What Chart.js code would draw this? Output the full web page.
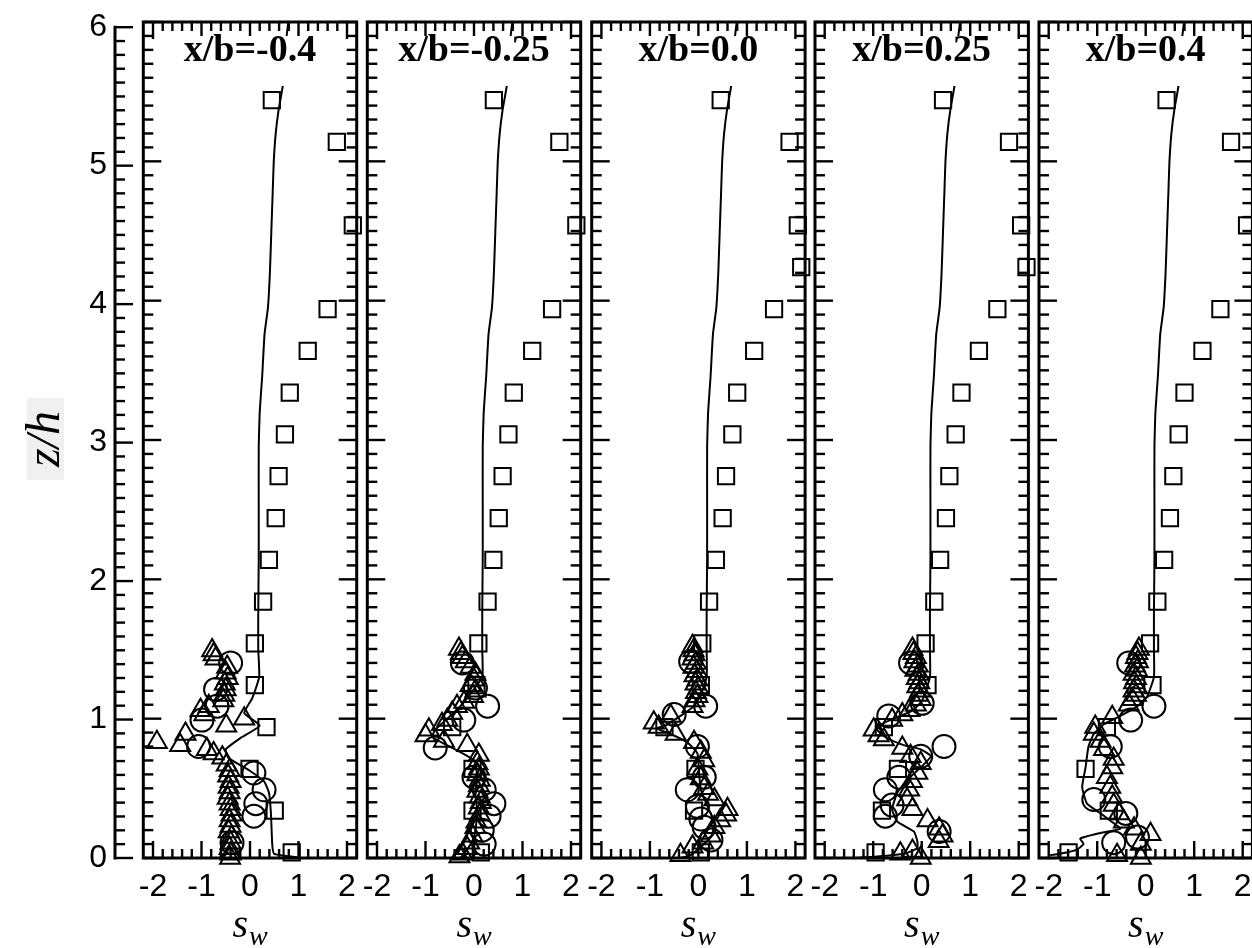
<!DOCTYPE html>
<html><head><meta charset="utf-8">
<script src="https://cdn.jsdelivr.net/npm/chart.js@4.4.1/dist/chart.umd.min.js"></script>
<style>
html,body{margin:0;padding:0;background:#fff;}
#wrap{position:relative;width:1252px;height:948px;overflow:hidden;background:#fff;}
#wrap canvas{position:absolute;left:0;top:0;}
</style></head><body><div id="wrap"></div>
<script>
// ---------------- data ----------------
const panelTitles = ['x/b=-0.4', 'x/b=-0.25', 'x/b=0.0', 'x/b=0.25', 'x/b=0.4'];
const xTickValues = [-2, -1, 0, 1, 2];
const yTickValues = [0, 1, 2, 3, 4, 5, 6];
const xAxisTitle = ['s', 'w'];      // s_w
const yAxisTitle = 'z/h';

// LES profile (solid line), upper part shared, lower part per station  [s_w, z/h]
const lesUpper = [[0.79,6.0],[0.74,5.85],[0.68,5.55],[0.59,5.37],[0.53,5.2],[0.49,5.0],[0.47,4.8],[0.44,4.5],[0.41,4.2],[0.37,3.95],[0.30,3.76],[0.25,3.45],[0.20,3.2],[0.18,2.95],[0.18,2.5],[0.18,2.15],[0.17,1.75],[0.17,1.5]];
const lesLow1 = [[0.19,1.30],[0.05,1.15],[-0.12,1.04],[0.2,0.95],[-0.2,0.86],[-0.5,0.78],[-0.45,0.72],[-0.02,0.63],[0.29,0.55],[0.39,0.47],[0.43,0.33],[0.46,0.09],[0.5,0.03],[0.85,0.01],[1.05,0.0]];
const lesLow2 = [[0.17,1.30],[-0.07,1.18],[-0.28,1.09],[-0.55,1.0],[-0.80,0.92],[-0.86,0.87],[-0.62,0.82],[-0.28,0.76],[0.0,0.70],[0.07,0.58],[0.03,0.46],[0.07,0.32],[0.0,0.15],[-0.14,0.06],[-0.28,0.0]];
const lesLow3 = [[0.17,1.30],[0.05,1.18],[-0.09,1.09],[-0.37,1.02],[-0.68,0.95],[-0.85,0.93],[-0.57,0.89],[-0.23,0.83],[-0.02,0.75],[0.01,0.63],[0.05,0.49],[0.19,0.37],[0.33,0.25],[0.26,0.15],[0.05,0.08],[-0.16,0.02],[-0.37,0.0]];
const lesLow4 = [[0.17,1.30],[0.01,1.13],[-0.19,1.06],[-0.5,1.01],[-0.78,0.97],[-0.92,0.92],[-0.71,0.86],[-0.37,0.81],[-0.02,0.78],[0.19,0.73],[-0.05,0.64],[-0.30,0.56],[-0.5,0.47],[-0.61,0.35],[-0.5,0.26],[-0.16,0.19],[-0.09,0.12],[-0.09,0.07],[-0.37,0.03],[-0.92,0.01],[-1.4,0.0]];
const lesLow5 = [[0.17,1.30],[0.03,1.16],[-0.17,1.09],[-0.52,1.02],[-0.86,0.96],[-1.07,0.89],[-1.18,0.80],[-1.24,0.65],[-1.31,0.51],[-1.21,0.39],[-0.93,0.32],[-0.66,0.25],[-0.52,0.21],[-0.93,0.18],[-1.35,0.14],[-1.28,0.10],[-1.42,0.06],[-1.63,0.04],[-1.97,0.02]];

// squares
const sq1 = [[0.45,5.44],[1.79,5.14],[2.12,4.54],[1.60,3.94],[1.19,3.64],[0.82,3.34],[0.72,3.04],[0.59,2.74],[0.53,2.44],[0.39,2.14],[0.27,1.84],[0.10,1.54],[0.10,1.24],[0.34,0.94],[-0.01,0.64],[0.51,0.34],[0.86,0.04]];
const sq2 = [[0.41,5.44],[1.76,5.14],[2.11,4.54],[1.61,3.94],[1.20,3.64],[0.82,3.34],[0.71,3.04],[0.59,2.74],[0.51,2.44],[0.40,2.14],[0.28,1.84],[0.09,1.54],[0.05,1.24],[-0.45,0.94],[-0.03,0.64],[-0.03,0.34],[0.14,0.04]];
const sq3 = [[0.46,5.44],[1.88,5.14],[2.05,4.54],[2.12,4.24],[1.56,3.94],[1.15,3.64],[0.80,3.34],[0.70,3.04],[0.57,2.74],[0.50,2.44],[0.36,2.14],[0.22,1.84],[0.08,1.54],[0.05,1.24],[-0.70,0.94],[-0.06,0.64],[-0.09,0.34],[0.05,0.04]];
const sq4 = [[0.44,5.44],[1.80,5.14],[2.05,4.54],[2.16,4.24],[1.56,3.94],[1.18,3.64],[0.82,3.34],[0.70,3.04],[0.57,2.74],[0.50,2.44],[0.38,2.14],[0.26,1.84],[0.08,1.54],[0.12,1.24],[-0.78,0.94],[-0.49,0.64],[-0.82,0.34],[-0.95,0.04]];
const sq5 = [[0.43,5.44],[1.76,5.14],[2.09,4.54],[1.54,3.94],[1.17,3.64],[0.80,3.34],[0.68,3.04],[0.57,2.74],[0.50,2.44],[0.38,2.14],[0.24,1.84],[0.09,1.54],[0.14,1.24],[-0.80,0.94],[-1.24,0.64],[-0.76,0.34],[-1.59,0.04]];

// circles
const circ1 = [[-0.40,1.40],[-0.71,1.21],[-0.68,1.09],[-0.99,0.99],[-1.06,0.80],[0.08,0.61],[0.29,0.49],[0.12,0.39],[0.08,0.30],[-0.37,0.11]];
const circ2 = [[-0.24,1.40],[0.03,1.22],[0.28,1.09],[-0.21,0.99],[-0.80,0.79],[0.0,0.58],[0.21,0.49],[0.41,0.39],[0.31,0.30],[0.17,0.20],[0.21,0.10]];
const circ3 = [[-0.16,1.41],[0.15,1.09],[-0.50,1.03],[-0.02,0.80],[0.12,0.58],[-0.23,0.49],[-0.02,0.37],[0.05,0.28],[0.12,0.22],[0.26,0.13]];
const circ4 = [[-0.23,1.40],[0.01,1.11],[-0.68,1.02],[0.46,0.80],[-0.02,0.73],[-0.47,0.58],[-0.75,0.49],[-0.61,0.38],[-0.75,0.30],[0.36,0.19]];
const circ5 = [[-0.35,1.40],[0.17,1.09],[-0.31,0.99],[-0.73,0.80],[-1.07,0.42],[-0.41,0.32],[-0.17,0.15],[-0.66,0.11]];

// triangles
const tri1 = [[-0.78,1.49],[-0.75,1.46],[-0.71,1.43],[-0.47,1.37],[-0.50,1.33],[-0.46,1.29],[-0.52,1.25],[-0.50,1.21],[-0.53,1.17],[-0.55,1.13],[-1.02,1.06],[-0.94,1.03],[-0.85,1.09],[-0.12,1.00],[-0.49,0.95],[-1.92,0.83],[-1.33,0.89],[-1.44,0.81],[-0.89,0.78],[-0.75,0.75],[-0.57,0.72],[-0.48,0.67],[-0.42,0.63],[-0.45,0.59],[-0.40,0.55],[-0.44,0.51],[-0.42,0.47],[-0.46,0.43],[-0.42,0.39],[-0.40,0.35],[-0.38,0.31],[-0.42,0.27],[-0.40,0.23],[-0.44,0.19],[-0.38,0.15],[-0.40,0.11],[-0.42,0.07],[-0.40,0.03],[-0.41,0.00]];
const tri2 = [[-0.31,1.50],[-0.27,1.47],[-0.24,1.44],[-0.17,1.41],[-0.07,1.37],[0.03,1.32],[0.0,1.28],[-0.07,1.24],[0.03,1.20],[-0.02,1.16],[-0.20,1.12],[-0.35,1.09],[-0.45,1.04],[-0.55,0.99],[-0.66,0.96],[-0.93,0.92],[-1.00,0.88],[-0.62,0.84],[-0.14,0.81],[0.10,0.74],[0.07,0.68],[0.10,0.64],[0.07,0.60],[0.12,0.56],[0.10,0.52],[0.07,0.48],[0.12,0.44],[0.14,0.40],[0.10,0.36],[0.12,0.31],[0.05,0.26],[0.03,0.22],[-0.03,0.16],[-0.10,0.11],[-0.14,0.07],[-0.24,0.03],[-0.30,0.01]];
const tri3 = [[-0.12,1.52],[-0.10,1.49],[-0.08,1.46],[-0.12,1.43],[-0.05,1.40],[-0.10,1.37],[-0.03,1.34],[-0.08,1.31],[-0.02,1.28],[-0.06,1.25],[0.0,1.22],[-0.05,1.19],[-0.02,1.16],[-0.08,1.13],[-0.12,1.09],[-0.57,1.02],[-0.92,0.97],[-0.82,0.94],[-0.47,0.89],[-0.09,0.83],[0.05,0.76],[0.12,0.70],[-0.02,0.64],[0.05,0.57],[0.12,0.50],[0.20,0.46],[0.33,0.42],[0.60,0.35],[0.57,0.31],[0.45,0.27],[0.33,0.22],[0.26,0.16],[0.10,0.11],[-0.12,0.08],[-0.37,0.02]];
const tri4 = [[-0.19,1.50],[-0.17,1.47],[-0.12,1.44],[-0.15,1.41],[-0.08,1.38],[-0.13,1.35],[-0.06,1.32],[-0.10,1.29],[-0.05,1.26],[-0.09,1.23],[-0.03,1.20],[-0.07,1.17],[-0.02,1.14],[-0.12,1.10],[-0.25,1.06],[-0.40,1.03],[-0.61,0.99],[-0.99,0.92],[-0.89,0.88],[-0.78,0.85],[-0.40,0.79],[-0.23,0.73],[-0.02,0.68],[-0.09,0.61],[-0.20,0.55],[-0.26,0.49],[-0.30,0.42],[-0.19,0.35],[0.12,0.27],[0.36,0.21],[0.43,0.16],[0.35,0.12],[-0.19,0.05],[-0.44,0.03],[-0.02,0.00]];
const tri5 = [[-0.14,1.50],[-0.17,1.47],[-0.20,1.44],[-0.16,1.41],[-0.22,1.38],[-0.18,1.35],[-0.25,1.32],[-0.20,1.29],[-0.24,1.26],[-0.19,1.23],[-0.25,1.20],[-0.20,1.17],[-0.28,1.14],[-0.35,1.10],[-0.69,1.01],[-1.04,0.94],[-1.07,0.89],[-0.93,0.84],[-0.86,0.78],[-0.66,0.71],[-0.69,0.65],[-0.80,0.58],[-0.73,0.51],[-0.69,0.44],[-0.66,0.38],[-0.55,0.32],[-0.45,0.26],[-0.24,0.21],[0.10,0.17],[-0.10,0.10],[-0.10,0.00],[-0.59,0.02]];

const lesLower = [lesLow1, lesLow2, lesLow3, lesLow4, lesLow5];
const squares = [sq1, sq2, sq3, sq4, sq5];
const circles = [circ1, circ2, circ3, circ4, circ5];
const triangles = [tri1, tri2, tri3, tri4, tri5];

// ---------------- layout ----------------
const CW = 1300, CH = 948;
const PLOT_TOP = 22, PLOT_BOTTOM = 858;
const PANEL_LEFT = [143.3, 367.3, 591.7, 815, 1039];
const PANEL_W = 213.4;
const AXIS_X = 115;
const SANS = '"Liberation Sans", Arial, sans-serif';
const SERIF = '"Liberation Serif", "Times New Roman", serif';

Chart.defaults.color = '#000';
Chart.defaults.font.family = SANS;

const wrap = document.getElementById('wrap');
function newCanvas() {
  const c = document.createElement('canvas');
  c.width = CW; c.height = CH;
  c.style.width = CW + 'px'; c.style.height = CH + 'px';
  wrap.appendChild(c);
  return c;
}
const toXY = arr => arr.map(p => ({x: p[0], y: p[1]}));

function drawYTicks(ctx, ys, x, dir) {
  for (let i = 0; i <= 60; i++) {
    const v = i / 10;
    const py = ys.getPixelForValue(v);
    const len = (i % 10 === 0) ? 18 : 10;
    ctx.beginPath(); ctx.moveTo(x, py); ctx.lineTo(x + dir * len, py); ctx.stroke();
  }
}

const panelDeco = {
  id: 'panelDeco',
  afterDatasetsDraw(chart, args, opts) {
    const ctx = chart.ctx, a = chart.chartArea;
    const xs = chart.scales.x, ys = chart.scales.y;
    ctx.save();
    ctx.strokeStyle = '#000';
    ctx.lineWidth = 2.4;
    ctx.lineCap = 'butt';
    // x ticks top & bottom
    for (let i = -10; i <= 10; i++) {
      const v = i / 5;
      const px = xs.getPixelForValue(v);
      const len = (i % 5 === 0) ? 17 : 9;
      ctx.beginPath(); ctx.moveTo(px, a.bottom); ctx.lineTo(px, a.bottom - len); ctx.stroke();
      ctx.beginPath(); ctx.moveTo(px, a.top); ctx.lineTo(px, a.top + len); ctx.stroke();
    }
    drawYTicks(ctx, ys, a.left, 1);
    drawYTicks(ctx, ys, a.right, -1);
    // frame
    ctx.lineWidth = 3;
    ctx.strokeRect(a.left, a.top, a.right - a.left, a.bottom - a.top);
    // title with white backdrop
    ctx.font = 'bold 38px ' + SERIF;
    const tw = ctx.measureText(opts.title).width;
    const cx = xs.getPixelForValue(0);
    ctx.fillStyle = '#fff';
    ctx.fillRect(cx - tw / 2 - 3, 36, tw + 6, 50);
    ctx.fillStyle = '#000';
    ctx.textAlign = 'center';
    ctx.textBaseline = 'alphabetic';
    ctx.fillText(opts.title, cx, 61);
    ctx.restore();
  },
  afterDraw(chart) {
    const ctx = chart.ctx;
    const xs = chart.scales.x;
    ctx.save();
    ctx.fillStyle = '#000';
    ctx.textBaseline = 'alphabetic';
    ctx.textAlign = 'left';
    ctx.font = 'italic 40px ' + SERIF;
    const sw = ctx.measureText(xAxisTitle[0]).width;
    ctx.font = 'italic 28px ' + SERIF;
    const ww = ctx.measureText(xAxisTitle[1]).width;
    const x0 = xs.getPixelForValue(0) - (sw + ww + 1) / 2;
    ctx.font = 'italic 40px ' + SERIF;
    ctx.fillText(xAxisTitle[0], x0, 937);
    ctx.font = 'italic 28px ' + SERIF;
    ctx.fillText(xAxisTitle[1], x0 + sw + 1, 945);
    ctx.restore();
  }
};

function makePanel(i) {
  const L = PANEL_LEFT[i], R = L + PANEL_W;
  const lineData = lesUpper.concat(lesLower[i]);
  const marker = {showLine: false, pointBorderColor: '#000', pointBackgroundColor: 'rgba(0,0,0,0)', pointBorderWidth: 2, borderColor: '#000', clip: 8};
  new Chart(newCanvas(), {
    type: 'scatter',
    data: {datasets: [
      {data: toXY(lineData), showLine: true, pointRadius: 0, borderColor: '#000', borderWidth: 2, tension: 0.15, fill: false, order: 1, clip: 2},
      Object.assign({data: toXY(squares[i]), pointStyle: 'rect', pointRadius: 11.5, order: 2}, marker),
      Object.assign({data: toXY(circles[i]), pointStyle: 'circle', pointRadius: 11.5, order: 3}, marker),
      Object.assign({data: toXY(triangles[i]), pointStyle: 'triangle', pointRadius: 11.5, order: 4}, marker)
    ]},
    options: {
      responsive: false, animation: false, events: [],
      layout: {autoPadding: false, padding: {left: L, right: CW - R, top: PLOT_TOP, bottom: 0}},
      plugins: {legend: {display: false}, tooltip: {enabled: false}, panelDeco: {title: panelTitles[i]}},
      scales: {
        x: {
          type: 'linear', min: -2.2, max: 2.2,
          afterBuildTicks: s => { s.ticks = xTickValues.map(v => ({value: v})); },
          afterFit: s => { s.height = CH - PLOT_BOTTOM; },
          grid: {display: false, drawTicks: false}, border: {display: false},
          ticks: {font: {family: SANS, size: 32}, color: '#000', padding: 10, autoSkip: false, maxRotation: 0, minRotation: 0}
        },
        y: {type: 'linear', min: 0, max: 6, display: false}
      }
    },
    plugins: [panelDeco]
  });
}

const outerDeco = {
  id: 'outerDeco',
  afterDraw(chart) {
    const ctx = chart.ctx, a = chart.chartArea, ys = chart.scales.y;
    ctx.save();
    ctx.strokeStyle = '#000';
    ctx.lineWidth = 2.4;
    drawYTicks(ctx, ys, a.left, 1);
    ctx.lineWidth = 3;
    ctx.beginPath(); ctx.moveTo(a.left, a.top - 1.5); ctx.lineTo(a.left, a.bottom + 1.5); ctx.stroke();
    // y title with light backdrop
    ctx.fillStyle = '#f0f0f0';
    ctx.fillRect(27, 398, 37, 82);
    ctx.translate(46, 439);
    ctx.rotate(-Math.PI / 2);
    ctx.fillStyle = '#000';
    ctx.font = 'italic 48px ' + SERIF;
    ctx.textAlign = 'center';
    ctx.textBaseline = 'middle';
    ctx.fillText(yAxisTitle, 0, 0);
    ctx.restore();
  }
};

new Chart(newCanvas(), {
  type: 'scatter',
  data: {datasets: [{data: []}]},
  options: {
    responsive: false, animation: false, events: [],
    layout: {autoPadding: false, padding: {left: 0, right: CW - 140, top: PLOT_TOP, bottom: CH - PLOT_BOTTOM}},
    plugins: {legend: {display: false}, tooltip: {enabled: false}},
    scales: {
      x: {type: 'linear', min: 0, max: 1, display: false},
      y: {
        type: 'linear', min: 0, max: 6,
        afterBuildTicks: s => { s.ticks = yTickValues.map(v => ({value: v})); },
        afterFit: s => { s.width = AXIS_X; },
        grid: {display: false, drawTicks: false}, border: {display: false},
        ticks: {font: {family: SANS, size: 32}, color: '#000', padding: 8}
      }
    }
  },
  plugins: [outerDeco]
});

for (let i = 0; i < 5; i++) makePanel(i);
</script>
</body></html>
